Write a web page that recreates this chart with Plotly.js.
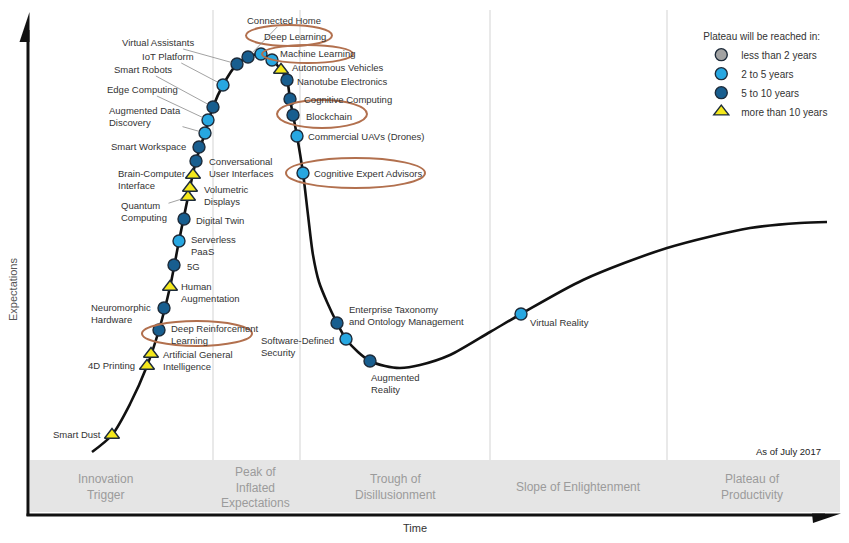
<!DOCTYPE html>
<html>
<head>
<meta charset="utf-8">
<script src="https://cdn.plot.ly/plotly-3.0.1.min.js"></script>
<style>
  html, body { margin: 0; padding: 0; background: #fff; }
  #plotlyArea { width: 849px; height: 543px; }
</style>
</head>
<body>
<div id="plotlyArea"></div>
<script>
// hype curve (time -> expectations, screen-like units)
var curveX = [92, 112, 130, 147, 159, 170, 179, 188, 196, 205, 213, 223, 237, 248, 261, 272, 281, 287, 290, 293, 297, 303, 308, 313, 319, 327, 337, 346, 358, 370, 385, 400, 420, 450, 490, 521, 583, 667, 750, 800, 827];
var curveY = [452, 435, 404, 366, 330, 287, 241, 197, 161, 133, 107, 85, 64, 57, 54, 60, 70, 80, 99, 115, 136, 173, 215, 255, 282, 302, 323, 339, 352, 361, 366, 368, 365, 355, 332, 314, 280, 248, 228, 223, 222];

var techNames = ['Smart Dust', '4D Printing', 'Artificial General<br>Intelligence', 'Deep Reinforcement<br>Learning',
    'Neuromorphic<br>Hardware', 'Human<br>Augmentation', '5G', 'Serverless<br>PaaS', 'Digital Twin',
    'Quantum<br>Computing', 'Volumetric<br>Displays', 'Brain-Computer<br>Interface', 'Conversational<br>User Interfaces',
    'Smart Workspace', 'Augmented Data<br>Discovery', 'Edge Computing', 'Smart Robots', 'IoT Platform',
    'Virtual Assistants', 'Connected Home', 'Deep Learning', 'Machine Learning', 'Autonomous Vehicles',
    'Nanotube Electronics', 'Cognitive Computing', 'Blockchain', 'Commercial UAVs (Drones)',
    'Cognitive Expert Advisors', 'Enterprise Taxonomy<br>and Ontology Management', 'Software-Defined<br>Security',
    'Augmented<br>Reality', 'Virtual Reality'];
var techX = [112, 147, 151, 159, 164, 170, 174, 179, 184, 188, 190, 193, 196, 199, 205, 208, 213, 223, 237, 248, 261, 272, 281, 287, 290, 293, 297, 303, 337, 346, 370, 521];
var techY = [435, 366, 354, 330, 308, 287, 265, 241, 219, 197, 188, 175, 161, 147, 133, 120, 107, 85, 64, 57, 54, 60, 70, 80, 99, 115, 136, 173, 323, 339, 361, 314];
// 0: <2 yrs, 1: 2-5 yrs, 2: 5-10 yrs, 3: >10 yrs
var techGroup = [3, 3, 3, 2, 2, 3, 2, 1, 2, 3, 3, 3, 2, 2, 1, 1, 2, 1, 2, 2, 1, 1, 3, 2, 2, 2, 1, 1, 2, 1, 2, 1];
var groupNames = ['less than 2 years', '2 to 5 years', '5 to 10 years', 'more than 10 years'];

var phaseNames = ['Innovation<br>Trigger', 'Peak of<br>Inflated<br>Expectations', 'Trough of<br>Disillusionment', 'Slope of Enlightenment', 'Plateau of<br>Productivity'];
var highlighted = ['Deep Learning', 'Machine Learning', 'Blockchain', 'Cognitive Expert Advisors', 'Deep Reinforcement<br>Learning'];

// styling
var groupColor = ['#a3a3a3', '#27a7e1', '#185e8f', '#f4e81c'];
var groupSymbol = ['circle', 'circle', 'circle', 'triangle-up'];
var phaseX = [105, 255, 395, 578, 752];
var dividers = [213, 300, 490, 667];
var FONT = '"Liberation Sans Narrow", "Arial Narrow", "Liberation Sans", Arial, sans-serif';
var LABEL_SIZE = 9.5;

// label placement: [side, dx, yshift] ; side 'r' right of marker, 'l' left, 'a' leader line (ax, ay)
var labelPos = {
    'Smart Dust': ['l', -9, 1], '4D Printing': ['l', -10, 1], 'Artificial General<br>Intelligence': ['r', 10, -6],
    'Deep Reinforcement<br>Learning': ['r', 10, -4], 'Neuromorphic<br>Hardware': ['l', -11, -5],
    'Human<br>Augmentation': ['r', 9, -5], '5G': ['r', 11, -1], 'Serverless<br>PaaS': ['r', 10, -4],
    'Digital Twin': ['r', 10, -1], 'Quantum<br>Computing': ['a', -44, 14], 'Volumetric<br>Displays': ['r', 12, -7],
    'Brain-Computer<br>Interface': ['l', -6, -4], 'Conversational<br>User Interfaces': ['r', 11, -6],
    'Smart Workspace': ['l', -11, 1], 'Augmented Data<br>Discovery': ['a', -60, -17], 'Edge Computing': ['a', -66, -31],
    'Smart Robots': ['a', -70, -38], 'IoT Platform': ['a', -55, -29], 'Virtual Assistants': ['a', -79, -22],
    'Connected Home': ['a', 36, -37], 'Deep Learning': ['r', 1, 18], 'Machine Learning': ['r', 6, 7],
    'Autonomous Vehicles': ['r', 9, 3], 'Nanotube Electronics': ['r', 8, -1], 'Cognitive Computing': ['r', 12, 0],
    'Blockchain': ['r', 11, -1], 'Commercial UAVs (Drones)': ['r', 9, 0], 'Cognitive Expert Advisors': ['r', 9, 0],
    'Enterprise Taxonomy<br>and Ontology Management': ['r', 10, 8], 'Software-Defined<br>Security': ['l', -10, -7],
    'Augmented<br>Reality': ['r', -1, -22], 'Virtual Reality': ['r', 7, -8]
};
// ellipse bounds round the highlighted labels
var ringSize = {
    'Deep Learning': [246, 332, 25, 46], 'Machine Learning': [262, 353, 45, 63], 'Blockchain': [277, 367, 100, 128],
    'Cognitive Expert Advisors': [286, 425, 158, 188], 'Deep Reinforcement<br>Learning': [142, 252, 321, 346]
};

var data = [{
    x: curveX, y: curveY, mode: 'lines', type: 'scatter',
    line: {color: '#111', width: 2.6, shape: 'spline', smoothing: 0.8},
    hoverinfo: 'skip', showlegend: false
}];
groupNames.forEach(function(g, gi) {
    var xs = [], ys = [], ns = [];
    techGroup.forEach(function(tg, i) {
        if (tg == gi) { xs.push(techX[i]); ys.push(techY[i]); ns.push(techNames[i]); }
    });
    if (xs.length == 0) { xs = [null]; ys = [null]; }
    data.push({
        x: xs, y: ys, text: ns, name: g, mode: 'markers', type: 'scatter',
        marker: {color: groupColor[gi], symbol: groupSymbol[gi], size: gi == 3 ? 13 : 12,
                 line: {color: '#1d2b3a', width: 1.4}},
        hovertemplate: '%{text}<extra>' + g + '</extra>'
    });
});

var annotations = [];
techNames.forEach(function(n, i) {
    var p = labelPos[n];
    var a = {x: techX[i], y: techY[i], text: n, align: 'left',
             font: {size: LABEL_SIZE, color: '#333', family: FONT}};
    if (p[0] == 'a') {
        a.showarrow = true; a.ax = p[1]; a.ay = p[2]; a.arrowhead = 0;
        a.arrowwidth = 0.8; a.arrowcolor = '#8a8a8a'; a.standoff = 6;
    } else {
        a.showarrow = false; a.xanchor = p[0] == 'r' ? 'left' : 'right';
        a.xshift = p[1]; a.yshift = p[2];
    }
    annotations.push(a);
});
phaseNames.forEach(function(n, i) {
    annotations.push({x: phaseX[i], y: 487, text: n, showarrow: false,
        font: {size: 12, color: '#9b9b9b', family: FONT}});
});
annotations.push({x: 415, y: 528, text: 'Time', showarrow: false, font: {size: 11, color: '#333', family: FONT}});
annotations.push({x: 13, y: 290, text: 'Expectations', showarrow: false, textangle: -90,
    font: {size: 11, color: '#555', family: FONT}});
annotations.push({x: 788, y: 451, text: 'As of July 2017', showarrow: false, font: {size: 9.5, color: '#222', family: FONT}});

var shapes = [
    {type: 'rect', x0: 30, x1: 840, y0: 460, y1: 512, fillcolor: '#e5e5e5', line: {width: 0}, layer: 'below'}
];
dividers.forEach(function(d) {
    shapes.push({type: 'line', x0: d, x1: d, y0: 10, y1: 460, line: {color: '#e2e2e2', width: 1.5}, layer: 'below'});
});
// axes with half arrow heads
shapes.push({type: 'line', x0: 28, x1: 28, y0: 516, y1: 30, line: {color: '#111', width: 3}});
shapes.push({type: 'line', x0: 26.5, x1: 825, y0: 515, y1: 515, line: {color: '#111', width: 3}});
shapes.push({type: 'path', path: 'M 19.5 42 L 29.5 12 L 29.5 42 Z', fillcolor: '#111', line: {width: 0}});
shapes.push({type: 'path', path: 'M 812 513.5 L 841 513.5 L 813 523 Z', fillcolor: '#111', line: {width: 0}});
highlighted.forEach(function(n) {
    var r = ringSize[n];
    shapes.push({type: 'circle', x0: r[0], x1: r[1], y0: r[2], y1: r[3], line: {color: '#b2704e', width: 2}});
});

var layout = {
    width: 849, height: 543,
    margin: {l: 0, r: 0, t: 0, b: 0},
    paper_bgcolor: '#fff', plot_bgcolor: '#fff',
    font: {family: FONT, color: '#333'},
    xaxis: {range: [0, 849], visible: false, fixedrange: true},
    yaxis: {range: [543, 0], visible: false, fixedrange: true},
    showlegend: true,
    legend: {x: 0.826, y: 0.95, xanchor: 'left', yanchor: 'top', bgcolor: 'rgba(0,0,0,0)',
             title: {text: 'Plateau will be reached in:', font: {size: 10, color: '#333'}},
             font: {size: 10, color: '#333'}, itemwidth: 30, tracegroupgap: 0},
    annotations: annotations,
    shapes: shapes
};
Plotly.newPlot('plotlyArea', data, layout, {displayModeBar: false, staticPlot: true});
</script>
</body>
</html>
